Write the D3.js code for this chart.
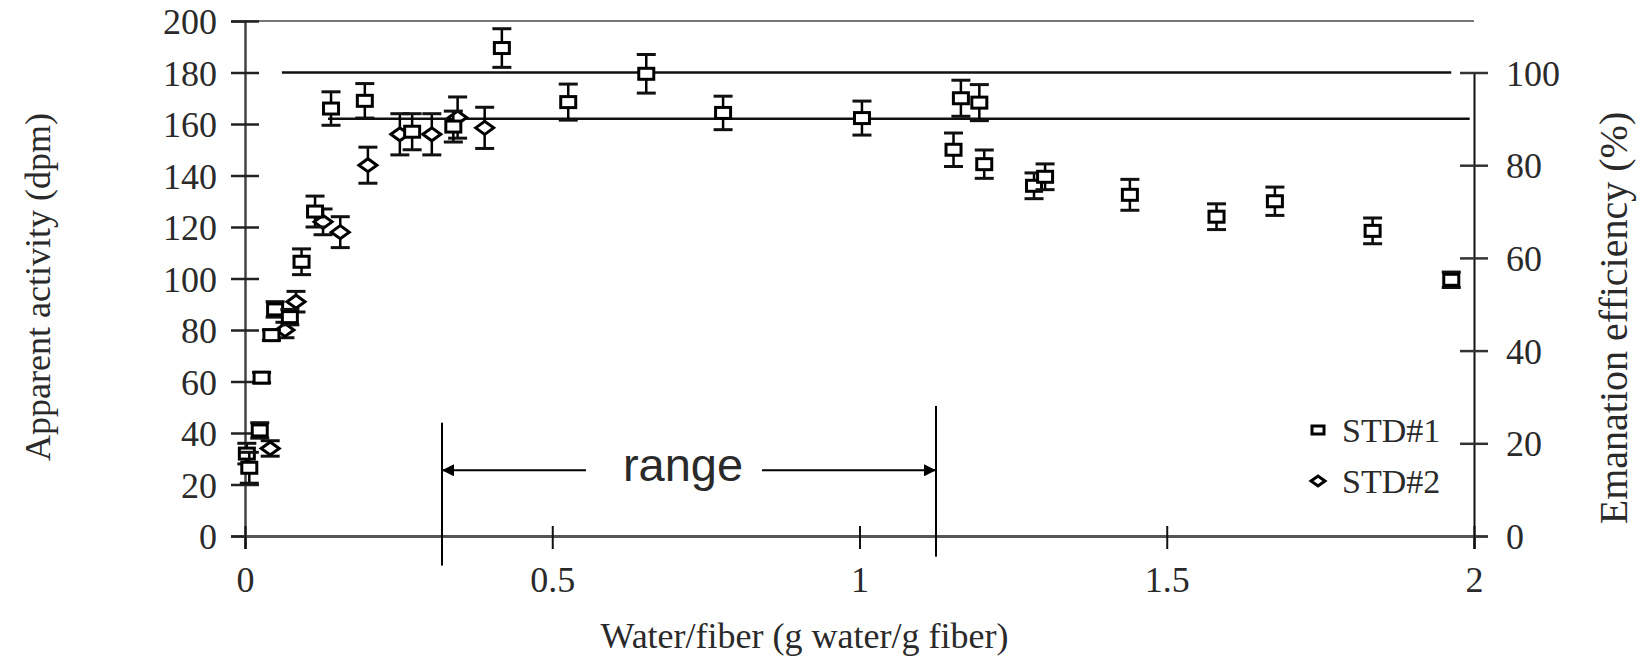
<!DOCTYPE html>
<html><head><meta charset="utf-8">
<script src="https://cdn.jsdelivr.net/npm/d3@7"></script>
<style>
html,body{margin:0;padding:0;background:#fff;}
svg{display:block;}
text{font-family:"Liberation Serif","Times New Roman",serif;fill:#2a2a2a;}
</style></head>
<body>
<svg id="chart" width="1643" height="657"></svg>
<script>
// ---- data ----
const xTicks = [0, 0.5, 1, 1.5, 2];
const xTickLabels = ["0", "0.5", "1", "1.5", "2"];
const yTicks = [0, 20, 40, 60, 80, 100, 120, 140, 160, 180, 200];
const yRightTicks = [0, 20, 40, 60, 80, 100];

// STD#1 (squares): water/fiber, apparent activity (dpm), error (dpm)
const std1X = [0.003, 0.007, 0.024, 0.027, 0.043, 0.049, 0.073, 0.092, 0.114, 0.140, 0.195, 0.272, 0.339, 0.418, 0.526, 0.653, 0.778, 1.004, 1.153, 1.165, 1.195, 1.203, 1.284, 1.302, 1.440, 1.581, 1.676, 1.835, 1.963];
const std1Y = [32, 26.5, 41, 61.5, 78, 88, 85, 106.5, 126, 166, 169, 157, 159, 189.5, 168.5, 179.5, 164.3, 162.3, 150, 170, 168.3, 144.4, 136, 139.5, 132.5, 124, 130, 118.5, 99.5];
const std1Err = [4, 6, 3, 2, 2, 3, 3, 5, 6, 6.5, 6.7, 7, 6, 7.5, 7, 7.5, 6.5, 6.6, 6.5, 7, 7, 5.5, 5, 5, 6, 5, 5.5, 5, 3];

// STD#2 (diamonds)
const std2X = [0.041, 0.065, 0.083, 0.127, 0.155, 0.200, 0.252, 0.304, 0.346, 0.390];
const std2Y = [34, 80, 91, 122, 118, 144, 156, 156, 162.5, 158.5];
const std2Err = [3, 3, 4, 5, 6, 7, 8, 8, 8, 8];

// reference lines (100 % and 90 % efficiency)
const refLevels = [180, 162];
const refStart = [0.06, 0.135];
const refEnd = [1.963, 1.993];

// "range" annotation
const rangeBounds = [0.3206, 1.1245];
const rangeTop = [44, 50.5];
const rangeBottom = [-11.5, -8];
const rangeArrowLevel = 25.5;

const legendLabels = ["STD#1", "STD#2"];

// ---- layout ----
const svg = d3.select("#chart");
const x = d3.scaleLinear().domain([0, 2]).range([245, 1474]);
const y = d3.scaleLinear().domain([0, 200]).range([536, 21]);
const yR = d3.scaleLinear().domain([0, 100]).range([y(0), y(180)]);

// top frame
svg.append("line").attr("x1", x(0)).attr("x2", x(2)).attr("y1", y(200)).attr("y2", y(200))
  .attr("stroke", "#777").attr("stroke-width", 2);

// reference lines
refLevels.forEach((lv, i) => {
  svg.append("line").attr("x1", x(refStart[i])).attr("x2", x(refEnd[i]))
    .attr("y1", y(lv)).attr("y2", y(lv)).attr("stroke", "#111").attr("stroke-width", 2.5);
});

const tickFont = "36px";

// axes
const gL = svg.append("g").attr("transform", `translate(${x(0)},0)`)
  .call(d3.axisLeft(y).tickValues(yTicks).tickSize(14).tickPadding(0).tickFormat(d3.format("d")));
gL.select(".domain").attr("stroke", "#444").attr("stroke-width", 2.5);
gL.selectAll(".tick line").attr("x1", -14).attr("x2", 14).attr("stroke", "#222").attr("stroke-width", 2.5);
gL.selectAll(".tick text").attr("x", -28).attr("dy", "0.35em")
  .style("font-family", '"Liberation Serif",serif').style("font-size", tickFont).attr("fill", "#2a2a2a");

const gR = svg.append("g").attr("transform", `translate(${x(2)},0)`)
  .call(d3.axisRight(yR).tickValues(yRightTicks).tickSize(14).tickPadding(0).tickFormat(d3.format("d")));
gR.select(".domain").attr("stroke", "#111").attr("stroke-width", 2);
gR.selectAll(".tick line").attr("x1", -14).attr("x2", 14).attr("stroke", "#333").attr("stroke-width", 2.5);
gR.selectAll(".tick text").attr("x", 32).attr("dy", "0.35em")
  .style("font-family", '"Liberation Serif",serif').style("font-size", tickFont).attr("fill", "#2a2a2a");

const gB = svg.append("g").attr("transform", `translate(0,${y(0)})`)
  .call(d3.axisBottom(x).tickValues(xTicks).tickSize(13).tickPadding(0).tickFormat((d, i) => xTickLabels[i]));
gB.select(".domain").attr("stroke", "#555").attr("stroke-width", 3);
gB.selectAll(".tick line").attr("y1", -10).attr("y2", 13).attr("stroke", "#111").attr("stroke-width", 2);
gB.selectAll(".tick text").attr("y", 56).attr("dy", 0)
  .style("font-family", '"Liberation Serif",serif').style("font-size", tickFont).attr("fill", "#2a2a2a");

// axis titles
svg.append("text").attr("x", (x(0) + x(2)) / 2 - 55).attr("y", 648)
  .attr("text-anchor", "middle").style("font-size", "36px").text("Water/fiber (g water/g fiber)");
svg.append("text").attr("transform", `translate(50,${287}) rotate(-90)`)
  .attr("text-anchor", "middle").style("font-size", "36px").text("Apparent activity (dpm)");
svg.append("text").attr("transform", `translate(1627,${318}) rotate(-90)`)
  .attr("text-anchor", "middle").style("font-size", "40px").text("Emanation efficiency (%)");

// range annotation
rangeBounds.forEach((b, i) => {
  svg.append("line").attr("x1", x(b)).attr("x2", x(b)).attr("y1", y(rangeTop[i])).attr("y2", y(rangeBottom[i]))
    .attr("stroke", "#000").attr("stroke-width", 2);
});
const ay = y(rangeArrowLevel);
svg.append("defs").append("marker").attr("id", "ah").attr("viewBox", "0 0 10 10")
  .attr("refX", 10).attr("refY", 5).attr("markerWidth", 16).attr("markerHeight", 12)
  .attr("markerUnits", "userSpaceOnUse").attr("orient", "auto")
  .append("path").attr("d", "M0,0 L10,5 L0,10 Z").attr("fill", "#000");
svg.append("line").attr("x1", 586).attr("x2", x(rangeBounds[0])).attr("y1", ay).attr("y2", ay)
  .attr("stroke", "#000").attr("stroke-width", 2).attr("marker-end", "url(#ah)");
svg.append("line").attr("x1", 762).attr("x2", x(rangeBounds[1])).attr("y1", ay).attr("y2", ay)
  .attr("stroke", "#000").attr("stroke-width", 2).attr("marker-end", "url(#ah)");
svg.append("text").attr("x", 683).attr("y", ay + 11).attr("text-anchor", "middle")
  .style("font-family", '"Liberation Sans",Arial,sans-serif').style("font-size", "47px").attr("fill", "#000")
  .text("range");

// marker helpers
function errBar(g, cx, v, e) {
  g.append("line").attr("x1", cx).attr("x2", cx).attr("y1", y(v - e)).attr("y2", y(v + e))
    .attr("stroke", "#000").attr("stroke-width", 2.5);
  [v - e, v + e].forEach(t => g.append("line").attr("x1", cx - 9.5).attr("x2", cx + 9.5)
    .attr("y1", y(t)).attr("y2", y(t)).attr("stroke", "#111").attr("stroke-width", 3));
}
function square(g, cx, cy, w, h) {
  g.append("rect").attr("x", cx - w / 2).attr("y", cy - h / 2).attr("width", w).attr("height", h)
    .attr("fill", "#fff").attr("stroke", "#000").attr("stroke-width", 3);
}
function diamond(g, cx, cy, w, h) {
  g.append("path").attr("d", `M${cx - w / 2},${cy} L${cx},${cy - h / 2} L${cx + w / 2},${cy} L${cx},${cy + h / 2} Z`)
    .attr("fill", "#fff").attr("stroke", "#000").attr("stroke-width", 3);
}

const pts = svg.append("g");
std2X.forEach((d, i) => {
  const g = pts.append("g");
  errBar(g, x(d), std2Y[i], std2Err[i]);
  diamond(g, x(d), y(std2Y[i]), 18, 13);
});
std1X.forEach((d, i) => {
  const g = pts.append("g");
  errBar(g, x(d), std1Y[i], std1Err[i]);
  square(g, x(d), y(std1Y[i]), 15, 11);
});

// legend
const lg = svg.append("g");
square(lg, 1318, 430, 12, 8);
diamond(lg, 1318, 481, 14, 10);
lg.append("text").attr("x", 1342).attr("y", 442).style("font-size", "34px").text(legendLabels[0]);
lg.append("text").attr("x", 1342).attr("y", 493).style("font-size", "34px").text(legendLabels[1]);
</script>
</body></html>
